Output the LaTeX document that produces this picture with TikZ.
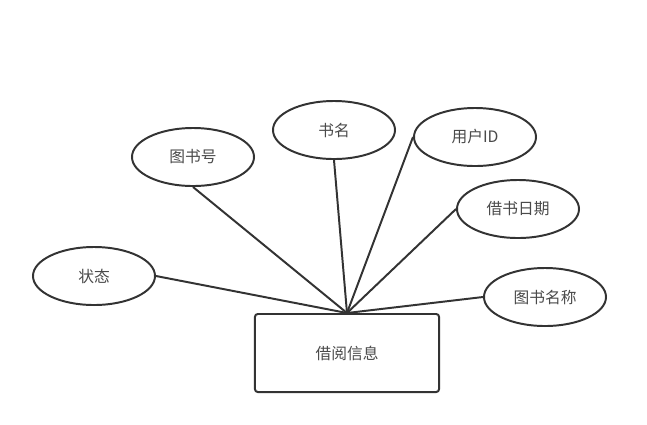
\documentclass[tikz,border=0pt]{standalone}
\usepackage{fontspec}
\newfontfamily\cjk{Noto Sans CJK SC}
\usepackage{xcolor}
\usetikzlibrary{shapes.geometric, positioning}
\definecolor{linegray}{HTML}{333333}
\definecolor{textgray}{HTML}{4A4A4A}
\tikzset{
  attr/.style={ellipse, draw=linegray, fill=white, line width=1.4pt,
               minimum width=3.05cm, minimum height=1.45cm, inner sep=0pt,
               font=\cjk\fontsize{11.2}{13}\selectfont, text=textgray},
  entity/.style={rectangle, draw=linegray, fill=white, rounded corners=2pt,
                 line width=1.4pt, minimum width=4.6cm, minimum height=1.95cm,
                 font=\cjk\fontsize{11.2}{13}\selectfont, text=textgray},
  link/.style={draw=linegray, line width=1.4pt},
}

\begin{document}
\begin{tikzpicture}[x=0.025cm, y=-0.025cm]
  \useasboundingbox (0,0) rectangle (647,424);

  \node[entity] (info) at (347,353) {借阅信息};

  \node[attr] (bookno) at (193,157) {图书号};
  \node[attr] (title) at (334,130) {书名};
  \node[attr] (userid) at (475,137) {用户ID};
  \node[attr] (bdate) at (518,209) {借书日期};
  \node[attr] (bname) at (545,297) {图书名称};
  \node[attr] (state) at (94,276) {状态};

  \draw[link] (bookno.south) -- (info.north);
  \draw[link] (title.south) -- (info.north);
  \draw[link] (userid.west) -- (info.north);
  \draw[link] (bdate.west) -- (info.north);
  \draw[link] (bname.west) -- (info.north);
  \draw[link] (state.east) -- (info.north);
\end{tikzpicture}
\end{document}
